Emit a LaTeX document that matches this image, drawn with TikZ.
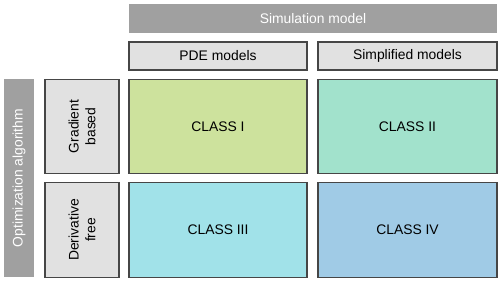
\documentclass[tikz,border=0pt]{standalone}
\usepackage{fontspec}
\setmainfont{Liberation Sans}
\definecolor{cA}{RGB}{205,226,157}
\definecolor{cB}{RGB}{162,226,204}
\definecolor{cC}{RGB}{161,226,233}
\definecolor{cD}{RGB}{160,203,230}
\definecolor{lgray}{RGB}{225,225,225}
\definecolor{bar}{RGB}{160,160,160}
\definecolor{edge}{RGB}{70,70,70}
\begin{document}
\begin{tikzpicture}[x=0.02cm,y=-0.02cm,
  every node/.style={font=\fontsize{7.9}{9.5}\selectfont, inner sep=0pt, align=center},
  barbox/.style={fill=bar, text=white},
  hdrbox/.style={draw=edge, line width=0.6pt, fill=lgray, minimum height=0.56cm},
  classbox/.style={draw=edge, line width=0.6pt, minimum height=1.89cm}]
\useasboundingbox (0,0) rectangle (500,282);
\node[barbox, minimum width=7.36cm, minimum height=0.58cm] (sim) at (313,18.5) {Simulation model};
\node[hdrbox, minimum width=3.56cm] (pde) at (218,56) {PDE models};
\node[hdrbox, minimum width=3.58cm] (simp) at (407.5,56) {Simplified models};
\node[classbox, fill=cA, minimum width=3.56cm] (c1) at (218,126.5) {CLASS I};
\node[classbox, fill=cB, minimum width=3.58cm] (c2) at (407.5,126.5) {CLASS II};
\node[classbox, fill=cC, minimum width=3.56cm] (c3) at (218,230) {CLASS III};
\node[classbox, fill=cD, minimum width=3.58cm] (c4) at (407.5,230) {CLASS IV};
\node[draw=edge, line width=0.6pt, fill=lgray, rotate=90, minimum width=1.89cm, minimum height=1.48cm] (grad) at (82,126.5) {Gradient\\based};
\node[draw=edge, line width=0.6pt, fill=lgray, rotate=90, minimum width=1.89cm, minimum height=1.48cm] (deriv) at (82,230) {Derivative\\free};
\node[barbox, rotate=90, minimum width=3.96cm, minimum height=0.6cm] (opt) at (19,178) {Optimization algorithm};
\end{tikzpicture}
\end{document}
